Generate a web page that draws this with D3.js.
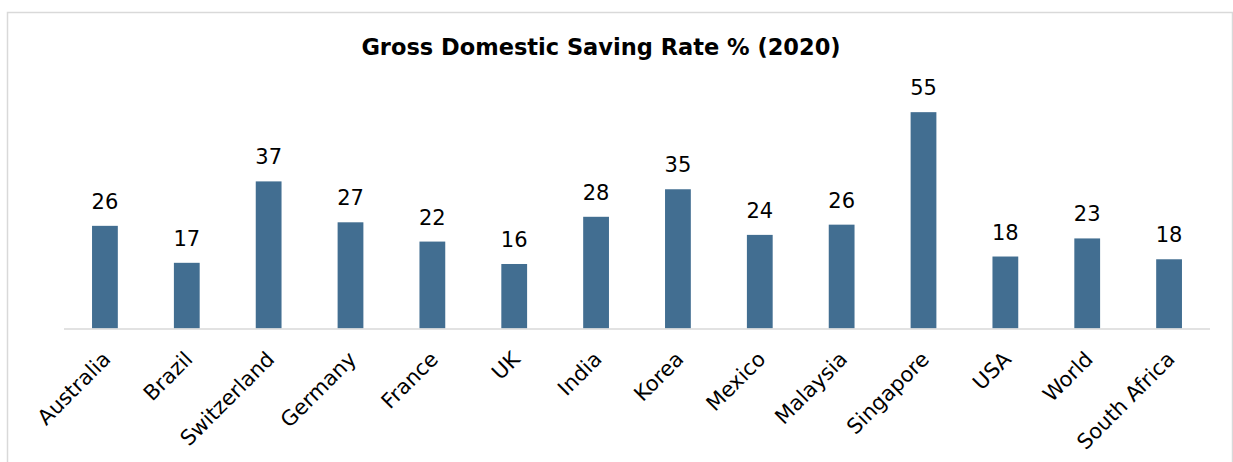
<!DOCTYPE html>
<html>
<head>
<meta charset="utf-8">
<script src="https://cdn.jsdelivr.net/npm/d3@7"></script>
<style>
  body { margin: 0; background: #ffffff; }
  svg { display: block; }
  .title { font-family: "DejaVu Sans", Verdana, sans-serif; font-weight: bold; font-size: 22.5px; fill: #000; }
  .vlabel { font-family: "DejaVu Sans", Verdana, sans-serif; font-size: 21px; fill: #000; }
  .xlabel { font-family: "DejaVu Sans", Verdana, sans-serif; font-size: 21px; fill: #000; }
</style>
</head>
<body>
<div id="chart"></div>
<script>
// data
var countries = ['Australia', 'Brazil', 'Switzerland', 'Germany', 'France', 'UK', 'India',
    'Korea', 'Mexico', 'Malaysia', 'Singapore', 'USA', 'World', 'South Africa'];
var savingRate = [26.1, 16.7, 37.4, 27.0, 22.1, 16.4, 28.4, 35.4, 23.8, 26.4, 55.0, 18.3, 22.9, 17.6];
var chartTitle = 'Gross Domestic Saving Rate % (2020)';

var config = {
    w: 1233,
    h: 462,
    left: 64,
    right: 1210,
    base: 328.5,
    top: 92.5,
    barFrac: 0.315,
    barcolor: '#426e91',
    linecolor: '#d9d9d9'
};

var c = config;

var svg = d3.select('#chart').append('svg')
    .attr('width', c.w)
    .attr('height', c.h);

// outer frame
svg.append('rect')
    .attr('x', 7.5)
    .attr('y', 12.5)
    .attr('width', 1225)
    .attr('height', 470)
    .attr('fill', 'none')
    .attr('stroke', c.linecolor)
    .attr('stroke-width', 1.5);

var x = d3.scaleBand()
    .domain(countries)
    .range([c.left, c.right])
    .padding(0);

var y = d3.scaleLinear()
    .domain([0, 60])
    .range([c.base, c.top]);

var data = countries.map(function(name, i) {
    return { name: name, value: savingRate[i] };
});

var bw = x.bandwidth() * c.barFrac;

svg.append('g').selectAll('rect')
    .data(data)
    .enter().append('rect')
    .attr('x', function(d) { return x(d.name) + (x.bandwidth() - bw) / 2; })
    .attr('y', function(d) { return y(d.value); })
    .attr('width', bw)
    .attr('height', function(d) { return y(0) - y(d.value); })
    .attr('fill', c.barcolor);

// baseline
svg.append('line')
    .attr('x1', c.left)
    .attr('x2', c.right)
    .attr('y1', y(0) + 0.5)
    .attr('y2', y(0) + 0.5)
    .attr('stroke', c.linecolor)
    .attr('stroke-width', 1.5);

// value labels
svg.append('g').selectAll('text')
    .data(data)
    .enter().append('text')
    .attr('class', 'vlabel')
    .attr('text-anchor', 'middle')
    .attr('x', function(d) { return x(d.name) + x.bandwidth() / 2; })
    .attr('y', function(d) { return y(d.value) - 17; })
    .text(function(d) { return d3.format('.0f')(d.value); });

// category labels, rotated
svg.append('g').selectAll('text')
    .data(countries)
    .enter().append('text')
    .attr('class', 'xlabel')
    .attr('text-anchor', 'end')
    .attr('transform', function(d) {
        return 'translate(' + (x(d) + x.bandwidth() / 2 + 7) + ',' + (y(0) + 32) + ') rotate(-45)';
    })
    .text(function(d) { return d; });

svg.append('text')
    .attr('class', 'title')
    .attr('text-anchor', 'middle')
    .attr('x', 601)
    .attr('y', 55)
    .text(chartTitle);
</script>
</body>
</html>
